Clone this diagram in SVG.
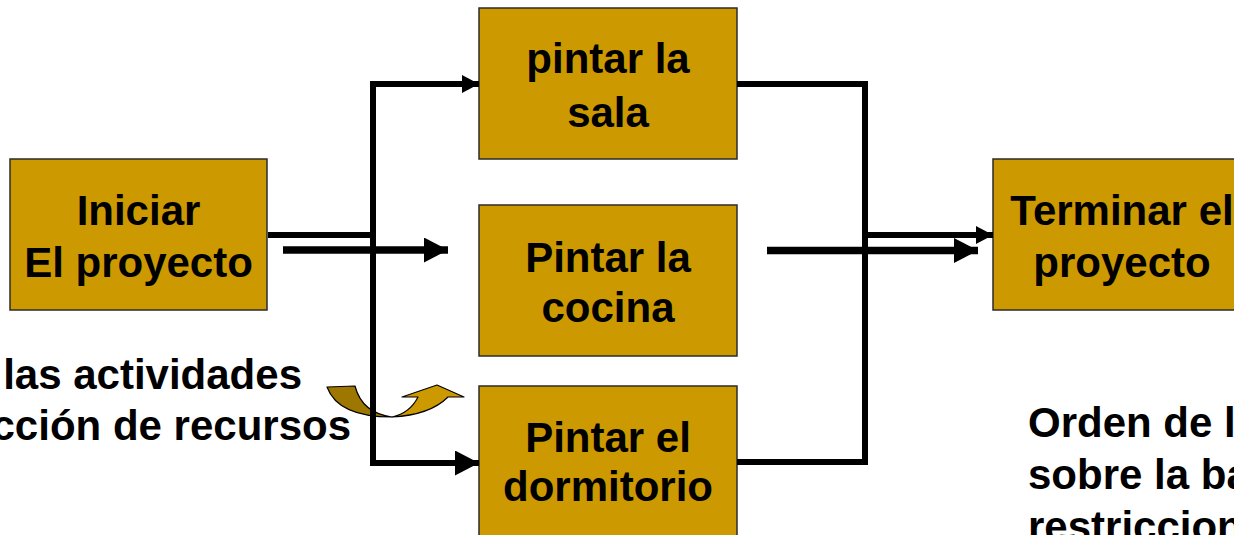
<svg xmlns="http://www.w3.org/2000/svg" width="1234" height="535" viewBox="0 0 1234 535">
<style>
.box{fill:#CC9900;stroke:#2b2b2b;stroke-width:1.5}
.t{font-family:"Liberation Sans",Arial,Helvetica,sans-serif;font-weight:bold;font-size:42px;fill:#000}
.c{text-anchor:middle}
.e{text-anchor:end}
.ln{fill:none;stroke:#000;stroke-width:6;stroke-linejoin:miter}
.thick{fill:none;stroke:#000;stroke-width:7.5}
</style>
<defs>
<marker id="ahS" markerUnits="userSpaceOnUse" markerWidth="18" markerHeight="18" refX="17" refY="9" orient="auto">
<path d="M0,0 L17,9 L0,18 Z" fill="#000"/>
</marker>
<marker id="ahL" markerUnits="userSpaceOnUse" markerWidth="25" markerHeight="26" refX="24" refY="12.5" orient="auto">
<path d="M0,0 L24,12.5 L0,25 Z" fill="#000"/>
</marker>
</defs>
<rect width="1234" height="535" fill="#fff"/>

<g id="iniciar">
<rect class="box" x="10" y="159" width="257" height="151"/>
<text class="t c" x="138.5" y="225">Iniciar</text>
<text class="t c" x="138.5" y="277">El proyecto</text>
</g>
<g id="sala">
<rect class="box" x="479" y="8" width="258" height="151"/>
<text class="t c" x="608" y="73">pintar la</text>
<text class="t c" x="608" y="127">sala</text>
</g>
<g id="cocina">
<rect class="box" x="479" y="205" width="258" height="151"/>
<text class="t c" x="608" y="272">Pintar la</text>
<text class="t c" x="608" y="322">cocina</text>
</g>
<g id="dormitorio">
<rect class="box" x="479" y="386" width="258" height="160"/>
<text class="t c" x="608" y="452">Pintar el</text>
<text class="t c" x="608" y="501">dormitorio</text>
</g>
<g id="terminar">
<rect class="box" x="993" y="159" width="258" height="151"/>
<text class="t c" x="1122" y="225">Terminar el</text>
<text class="t c" x="1122" y="277">proyecto</text>
</g>

<g id="curved-arrow" stroke="#000" stroke-width="1.2" stroke-linejoin="round">
<path d="M327,387 L355,386 Q362,413 392,417 Q338,417 327,387 Z" fill="#9E7700"/>
<path d="M392,417 Q430,415 448,397 L464,397 L437,385 L402,397 L418,397 Q410,413 392,417 Z" fill="#CC9900"/>
</g>

<g id="connectors">
<path class="ln" d="M268,235 H373 V463 H479" marker-end="url(#ahL)"/>
<path class="ln" d="M373,235 V84 H479" marker-end="url(#ahS)"/>
<path class="thick" d="M283,250 H448" marker-end="url(#ahL)"/>
<path class="ln" d="M737,84 H865 V462 H737"/>
<path class="ln" d="M865,235 H993" marker-end="url(#ahS)"/>
<path class="thick" d="M767,250.5 H978" marker-end="url(#ahL)"/>
</g>

<g id="notes">
<text class="t e" x="302" y="389">las actividades</text>
<text class="t e" x="351" y="440">cción de recursos</text>
<text class="t" x="1028" y="437">Orden de l</text>
<text class="t" x="1028" y="489">sobre la ba</text>
<text class="t" x="1028" y="541">restriccion</text>
</g>
</svg>
